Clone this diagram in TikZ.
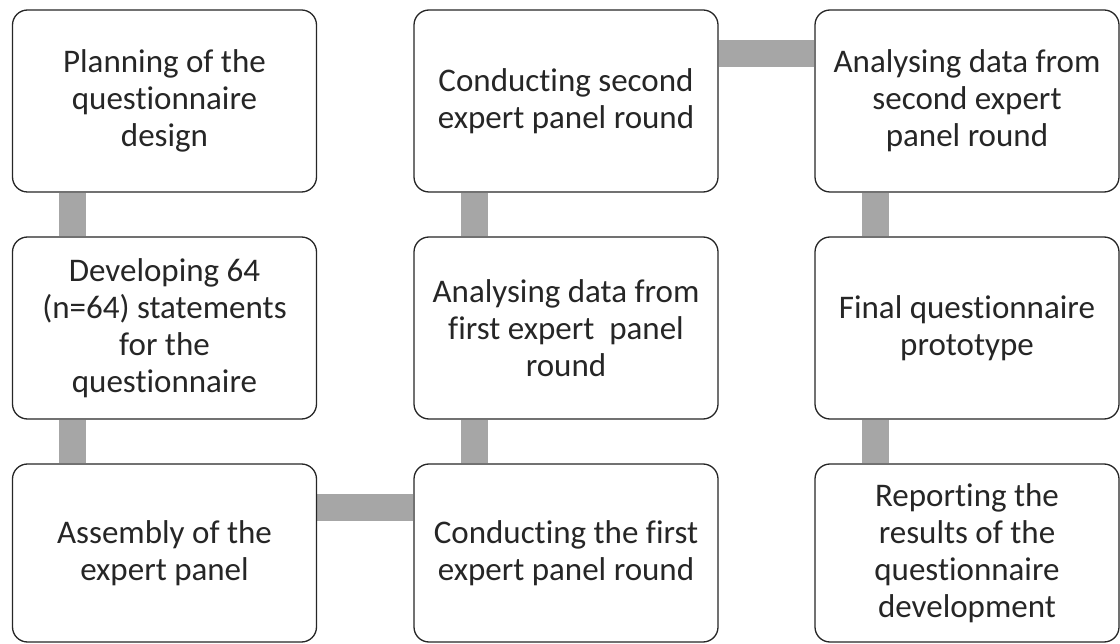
\documentclass[tikz,border=0pt]{standalone}
\usepackage{fontspec}
\setmainfont{Carlito}[Ligatures=NoCommon]
\usetikzlibrary{backgrounds}
\begin{document}
\begin{tikzpicture}[x=1pt,y=-1pt,
  stepbox/.style={draw=black!85, line width=1.3pt, fill=white, rounded corners=15pt,
    minimum width=304pt, align=center, inner sep=4pt, text=black!85,
    font=\fontsize{33}{37}\selectfont},
  bar/.style={line width=27pt, draw=black!35, line cap=butt}]
\useasboundingbox (0,0) rectangle (1120,644);
% boxes
\node[stepbox, minimum height=182pt] (b1) at (164.5,101) {Planning of the\\questionnaire\\design};
\node[stepbox, minimum height=182pt] (b2) at (164.5,328) {Developing 64\\(n=64) statements\\for the\\questionnaire};
\node[stepbox, minimum height=178pt] (b3) at (164.5,553) {Assembly of the\\expert panel};
\node[stepbox, minimum height=178pt] (b4) at (566,553) {Conducting the first\\expert panel round};
\node[stepbox, minimum height=182pt] (b5) at (566,328) {Analysing data from\\first expert\ \ panel\\round};
\node[stepbox, minimum height=182pt] (b6) at (566,101) {Conducting second\\expert panel round};
\node[stepbox, minimum height=182pt] (b7) at (967,101) {Analysing data from\\second expert\\panel round};
\node[stepbox, minimum height=182pt] (b8) at (967,328) {Final questionnaire\\prototype};
\node[stepbox, minimum height=178pt] (b9) at (967,553) {Reporting the\\results of the\\questionnaire\\development};
% connectors (behind boxes)
\begin{scope}[on background layer]
\draw[bar] ([xshift=61pt]b1.south west) -- ([xshift=61pt]b2.north west);
\draw[bar] ([xshift=61pt]b2.south west) -- ([xshift=61pt]b3.north west);
\draw[bar] ([yshift=-44pt]b3.north east) -- ([yshift=-44pt]b4.north west);
\draw[bar] ([xshift=61pt]b4.north west) -- ([xshift=61pt]b5.south west);
\draw[bar] ([xshift=61pt]b5.north west) -- ([xshift=61pt]b6.south west);
\draw[bar] ([yshift=-44pt]b6.north east) -- ([yshift=-44pt]b7.north west);
\draw[bar] ([xshift=61pt]b7.south west) -- ([xshift=61pt]b8.north west);
\draw[bar] ([xshift=61pt]b8.south west) -- ([xshift=61pt]b9.north west);
\end{scope}
\end{tikzpicture}
\end{document}
